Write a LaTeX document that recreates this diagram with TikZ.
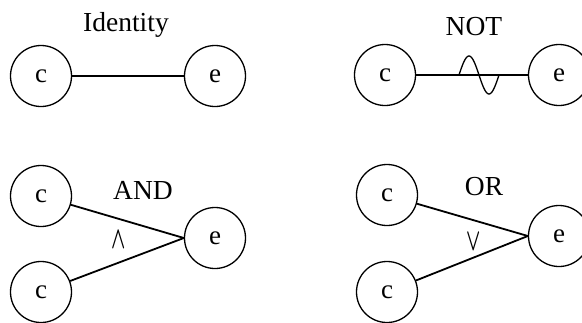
\documentclass[tikz,border=0pt]{standalone}
\usepackage{fontspec}
\setmainfont{Liberation Serif}
\usepackage{graphicx}
\begin{document}
\begin{tikzpicture}[x=1pt,y=-1pt,
  state/.style={circle,draw,line width=1.3pt,minimum size=61pt,inner sep=0pt,font=\fontsize{27}{30}\selectfont},
  conn/.style={line width=1.8pt},
  lbl/.style={font=\fontsize{27.5}{30}\selectfont,inner sep=0pt},
  sym/.style={inner sep=0pt,font=\fontsize{26}{30}\selectfont\boldmath}]
\useasboundingbox (0,0) rectangle (582,322);
\begin{scope}
\clip (0,0) rectangle (582,322);
% Identity
\node[state] (ic) at (41,76) {c};
\node[state] (ie) at (215,76) {e};
\draw[conn] (ic) -- (ie);
\node[lbl] (il) at (126,25) {Identity};
% NOT
\node[state] (nc) at (385,75) {c};
\node[state] (ne) at (559,75) {e};
\draw[conn] (nc) -- (ne);
\draw[line width=1.3pt] plot[domain=0:40,samples=60,smooth] ({459+\x},{75-19*sin(9*\x)});
\node[lbl] (nl) at (474,27) {NOT};
% AND
\node[state] (ac1) at (41,196) {c};
\node[state] (ac2) at (41,292) {c};
\node[state] (ae) at (215,238) {e};
\draw[conn] (ac1) -- (ae.west);
\draw[conn] (ac2) -- (ae.west);
\node[lbl] (al) at (143,190) {AND};
\node[sym] (aw) at (119,240) {\scalebox{0.75}[1.25]{$\wedge$}};
% OR
\node[state] (oc1) at (387,195) {c};
\node[state] (oc2) at (387,292) {c};
\node[state] (oe) at (559,236) {e};
\draw[conn] (oc1) -- (oe.west);
\draw[conn] (oc2) -- (oe.west);
\node[lbl] (ol) at (484,187) {OR};
\node[sym] (ov) at (474,242) {\scalebox{0.75}[1.25]{$\vee$}};
\end{scope}
\end{tikzpicture}
\end{document}
